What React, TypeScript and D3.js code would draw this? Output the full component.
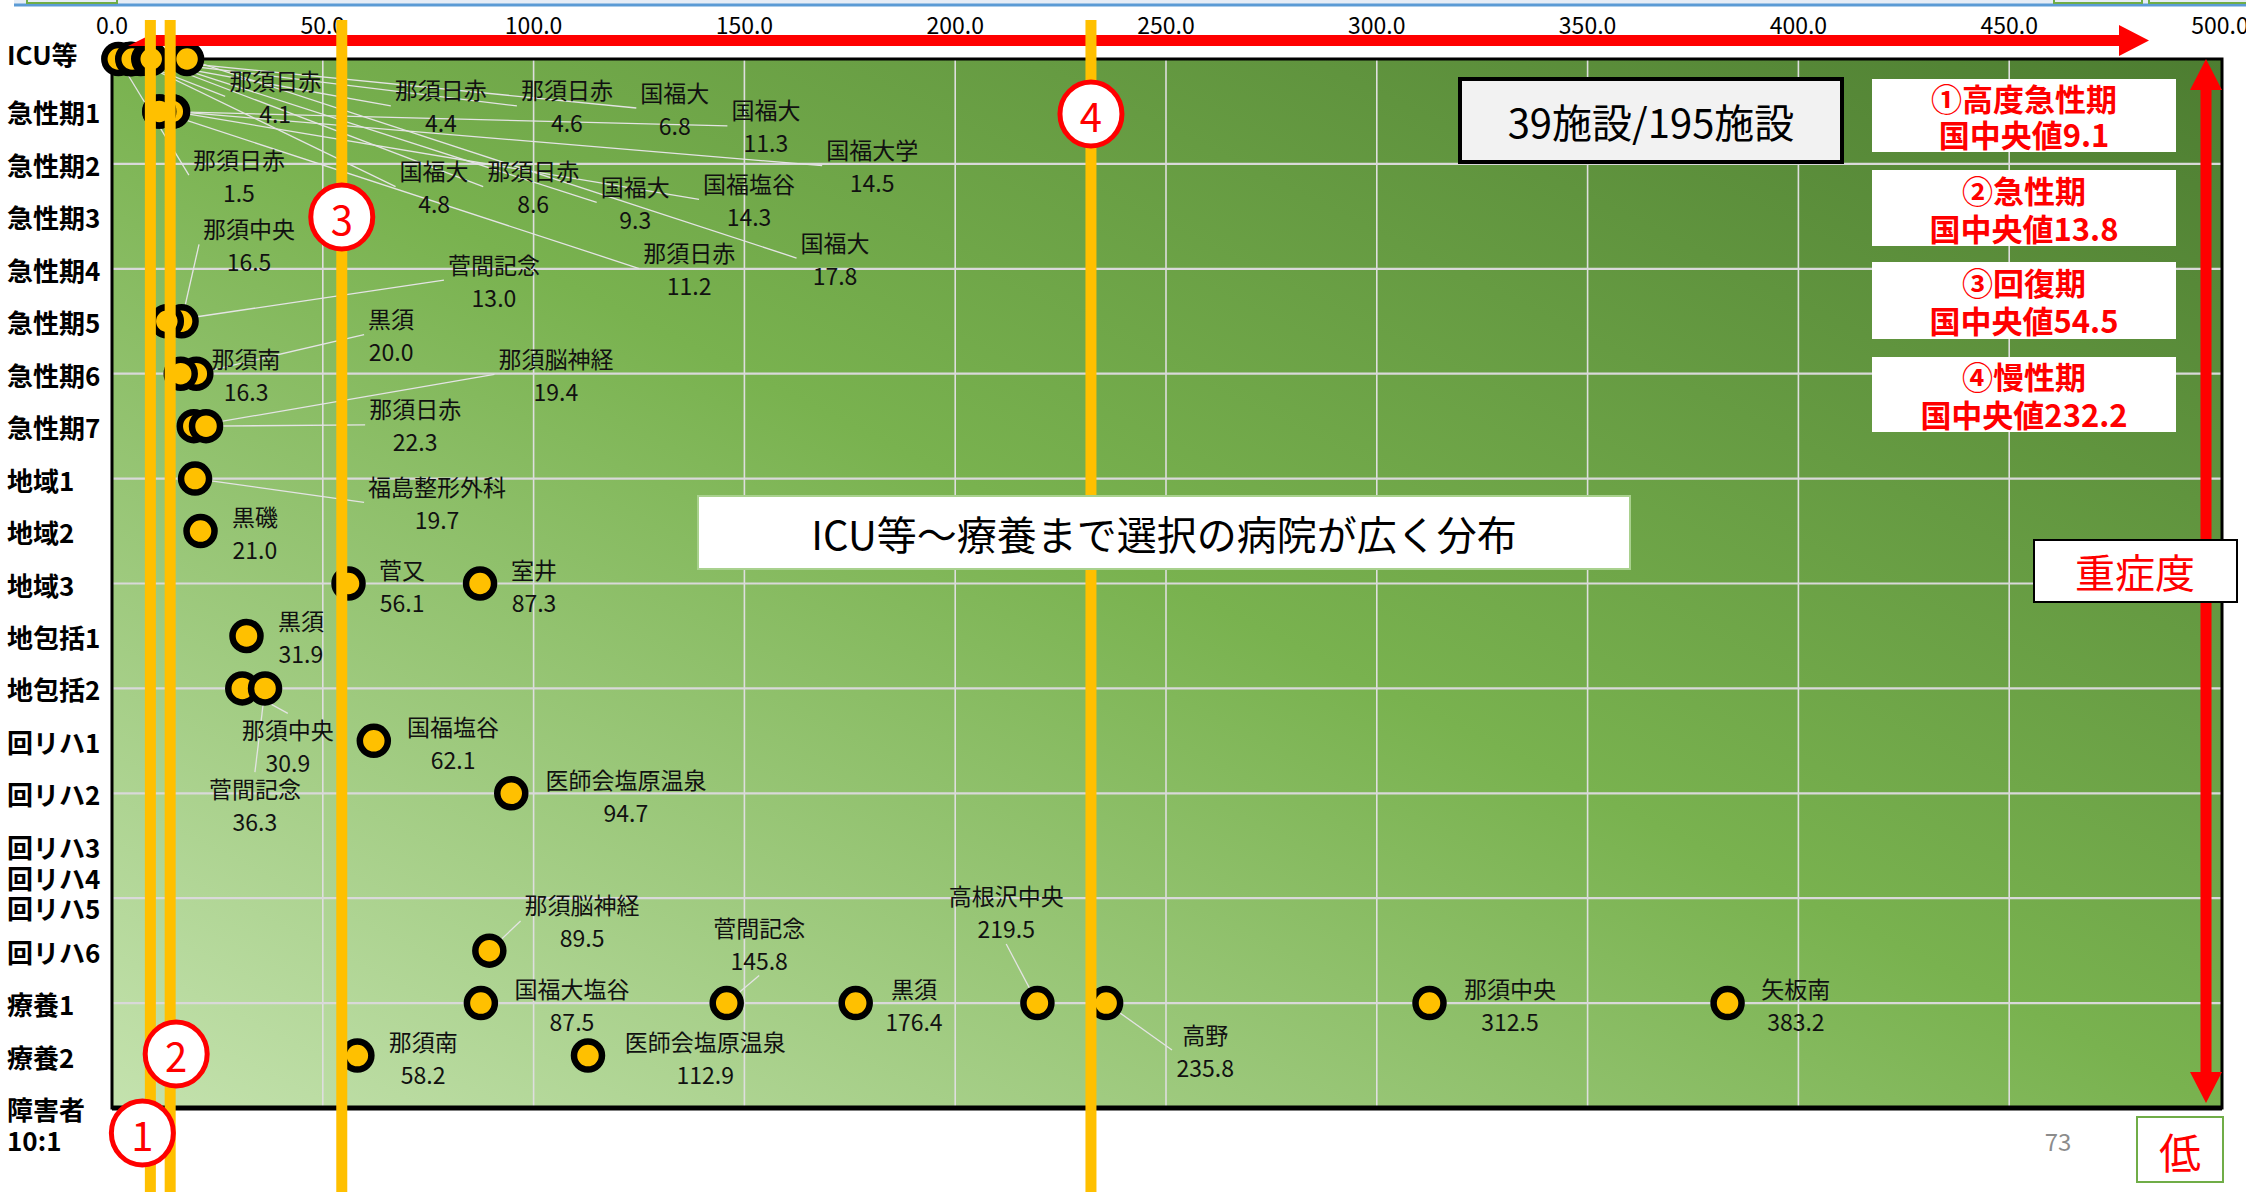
import React from "react";
import * as d3 from "d3";

const W = 2246;
const H = 1192;
const FONT = "'Noto Sans CJK JP', 'Noto Sans', sans-serif";

// y categories and their row position (grid units from the top)
const categories = [
  "ICU等", "急性期1", "急性期2", "急性期3", "急性期4", "急性期5", "急性期6", "急性期7",
  "地域1", "地域2", "地域3", "地包括1", "地包括2", "回リハ1", "回リハ2", "回リハ3",
  "回リハ4", "回リハ5", "回リハ6", "療養1", "療養2", "障害者\n10:1",
];
const categoryRows = [0, 0.5, 1, 1.5, 2, 2.5, 3, 3.5, 4, 4.5, 5, 5.5, 6, 6.5, 7, 7.5, 7.8, 8.08, 8.5, 9, 9.5, 10];

const xTicks = [0, 50, 100, 150, 200, 250, 300, 350, 400, 450, 500];

// hospitals (名前, 値, 区分)
const hospitals = [
  "那須日赤", "那須日赤", "那須日赤", "国福大", "国福大", "国福大学", "那須日赤", "国福大",
  "那須日赤", "国福大", "国福塩谷", "国福大", "那須日赤", "那須中央", "菅間記念", "黒須",
  "那須南", "那須脳神経", "那須日赤", "福島整形外科", "黒磯", "菅又", "室井", "黒須",
  "那須中央", "国福塩谷", "菅間記念", "医師会塩原温泉", "那須脳神経", "菅間記念", "高根沢中央", "国福大塩谷",
  "黒須", "那須中央", "矢板南", "高野", "那須南", "医師会塩原温泉",
];
const values = [
  4.1, 4.4, 4.6, 6.8, 11.3, 14.5, 1.5, 4.8,
  8.6, 9.3, 14.3, 17.8, 11.2, 16.5, 13.0, 20.0,
  16.3, 19.4, 22.3, 19.7, 21.0, 56.1, 87.3, 31.9,
  30.9, 62.1, 36.3, 94.7, 89.5, 145.8, 219.5, 87.5,
  176.4, 312.5, 383.2, 235.8, 58.2, 112.9,
];
const hospitalCategory = [
  "ICU等", "ICU等", "ICU等", "ICU等", "急性期1", "急性期1", "ICU等", "ICU等",
  "ICU等", "ICU等", "急性期1", "ICU等", "急性期1", "急性期5", "急性期5", "急性期6",
  "急性期6", "急性期7", "急性期7", "地域1", "地域2", "地域3", "地域3", "地包括1",
  "地包括2", "回リハ1", "地包括2", "回リハ2", "回リハ6", "療養1", "療養1", "療養1",
  "療養1", "療養1", "療養1", "療養1", "療養2", "療養2",
];
// where each data label sits (x in axis units, y in row units)
const labelX = [
  38.7, 78.0, 107.9, 133.5, 155.1, 180.3, 30.1, 76.4,
  99.9, 124.1, 151.1, 171.5, 136.9, 32.5, 90.6, 66.2,
  31.8, 105.3, 71.9, 77.1, 33.9, 68.8, 100.1, 44.8,
  41.7, 80.9, 33.9, 121.9, 111.5, 153.5, 212.1, 109.1,
  190.2, 331.6, 399.4, 259.3, 73.8, 140.7,
];
const labelY = [
  0.2, 0.29, 0.29, 0.31, 0.48, 0.86, 0.95, 1.06,
  1.06, 1.21, 1.18, 1.74, 1.84, 1.61, 1.95, 2.47,
  2.85, 2.85, 3.33, 4.07, 4.36, 4.86, 4.86, 5.35,
  6.39, 6.36, 6.95, 6.86, 8.06, 8.27, 7.97, 8.86,
  8.86, 8.86, 8.86, 9.29, 9.36, 9.36,
];

// 国中央値
const medianNames = ["①高度急性期", "②急性期", "③回復期", "④慢性期"];
const medianValues = [9.1, 13.8, 54.5, 232.2];
const medianMarks = ["1", "2", "3", "4"];

const textW = (s: string, fs: number) =>
  Array.from(s).reduce((w, c) => w + (c.charCodeAt(0) > 255 ? fs : c === "." ? 0.3 * fs : 0.56 * fs), 0);

export default function App() {
  const x = d3.scaleLinear().domain([0, 500]).range([112, 2220]);
  const y = d3.scaleLinear().domain([0, 10]).range([59, 1108]);
  const fmt = d3.format(".1f");
  const rowOf = (c: string) => categoryRows[categories.indexOf(c)];

  const LFS = 23;
  const points = hospitals.map((name, i) => {
    const cx = x(values[i]);
    const cy = y(rowOf(hospitalCategory[i]));
    const lx = x(labelX[i]);
    const ly = y(labelY[i]);
    const val = fmt(values[i]);
    const bw = Math.max(textW(name, LFS), textW(val, LFS)) + 8;
    const x0 = lx - bw / 2, x1 = lx + bw / 2, y0 = ly - 16, y1 = ly + 33 + 16;
    let ex: number, ey: number;
    if (cx < x0 || cx > x1) {
      ex = cx < x0 ? x0 : x1;
      ey = (y0 + y1) / 2;
    } else {
      ex = lx;
      ey = cy < y0 ? y0 : y1;
    }
    const dist = Math.hypot(ex - cx, ey - cy);
    return { name, val, cx, cy, lx, ly, ex, ey, leader: dist > 40 };
  });

  const legendBoxes = [
    { y0: 79, h: 73 },
    { y0: 170, h: 76 },
    { y0: 262, h: 77 },
    { y0: 357, h: 75 },
  ];
  const markY = [1133, 1054, 217, 114];
  const markDx = [-8, 6, 0, 0];

  const plotL = x(0), plotR = 2222, plotT = y(0), plotB = y(10);

  return (
    <div style={{ position: "absolute", left: 0, top: 0 }}>
      <svg width={W} height={H} style={{ display: "block", background: "#fff", fontFamily: FONT }}>
        <defs>
          <linearGradient id="plotBg" x1="0" y1="1" x2="1" y2="0">
            <stop offset="0" stopColor="#c4e2ae" />
            <stop offset="0.5" stopColor="#79b24f" />
            <stop offset="1" stopColor="#4d7d31" />
          </linearGradient>
        </defs>

        {/* slide frame remnants at top */}
        <rect x={14} y={0} width={W - 14} height={4} fill="#e6edf6" />
        <line x1={14} x2={W} y1={5} y2={5} stroke="#5b9bd5" strokeWidth={3} />
        <rect x={27} y={-3} width={90} height={6} fill="none" stroke="#70ad47" strokeWidth={2} />
        <rect x={2054} y={-3} width={88} height={6} fill="none" stroke="#70ad47" strokeWidth={2} />
        <rect x={2149} y={-3} width={100} height={6} fill="none" stroke="#70ad47" strokeWidth={2} />

        {/* plot area */}
        <rect x={plotL} y={plotT} width={plotR - plotL} height={plotB - plotT} fill="url(#plotBg)" />
        {xTicks.slice(1, -1).map((t) => (
          <line key={"gx" + t} x1={x(t)} x2={x(t)} y1={plotT} y2={plotB} stroke="#dedede" strokeWidth={1.6} />
        ))}
        {d3.range(1, 10).map((r) => (
          <line key={"gy" + r} x1={plotL} x2={plotR} y1={y(r)} y2={y(r)} stroke="#d9d9d9" strokeWidth={2.2} />
        ))}
        <rect x={plotL} y={plotT} width={plotR - plotL} height={plotB - plotT} fill="none" stroke="#000" strokeWidth={3} />
        <line x1={plotL} x2={plotR} y1={plotB} y2={plotB} stroke="#000" strokeWidth={5} />

        {/* x axis labels */}
        {xTicks.map((t) => (
          <text key={"xt" + t} x={x(t)} y={24} fontSize={23} textAnchor="middle" dominantBaseline="central" fill="#000">
            {fmt(t)}
          </text>
        ))}

        {/* leader lines */}
        {points.filter((p) => p.leader).map((p, i) => (
          <line key={"ll" + i} x1={p.cx} y1={p.cy} x2={p.ex} y2={p.ey} stroke="#e4e4e4" strokeWidth={1.3} />
        ))}

        {/* points */}
        {points.map((p, i) => (
          <circle key={"pt" + i} cx={p.cx} cy={p.cy} r={14} fill="#ffc000" stroke="#000" strokeWidth={6.5} />
        ))}

        {/* data labels */}
        {points.map((p, i) => (
          <g key={"lb" + i} fontSize={LFS} fill="#111" textAnchor="middle">
            <text x={p.lx} y={p.ly} dominantBaseline="central">{p.name}</text>
            <text x={p.lx} y={p.ly + 33} dominantBaseline="central">{p.val}</text>
          </g>
        ))}

        {/* category labels */}
        {categories.map((c, i) => {
          const lines = c.split("\n");
          return (
            <text key={"cat" + i} x={7} fontSize={26} fontWeight="bold" fill="#000" dominantBaseline="central">
              {lines.map((s, j) => (
                <tspan key={j} x={7} y={y(categoryRows[i]) - (i === 0 ? 6 : 0) + j * 31}>{s}</tspan>
              ))}
            </text>
          );
        })}

        {/* 施設数 */}
        <rect x={1460} y={79} width={382} height={83} fill="#f2f2f2" stroke="#000" strokeWidth={4} />
        <text x={1651} y={121} fontSize={40} textAnchor="middle" dominantBaseline="central" fill="#000">
          39施設/195施設
        </text>

        {/* 国中央値 boxes */}
        {medianNames.map((n, i) => (
          <g key={"md" + i}>
            <rect x={1872} y={legendBoxes[i].y0} width={304} height={legendBoxes[i].h} fill="#fff" />
            <text x={2024} y={legendBoxes[i].y0 + legendBoxes[i].h * 0.25} fontSize={31} fontWeight="bold" fill="#ff0000" textAnchor="middle" dominantBaseline="central">
              {n}
            </text>
            <text x={2024} y={legendBoxes[i].y0 + legendBoxes[i].h * 0.75} fontSize={31} fontWeight="bold" fill="#ff0000" textAnchor="middle" dominantBaseline="central">
              {"国中央値" + medianValues[i]}
            </text>
          </g>
        ))}

        {/* red arrows */}
        <polygon points="128,46 150,35 2119,35 2119,25 2149,40.5 2119,56 2119,46" fill="#ff0000" />
        <polygon points="2200.5,90 2190,90 2206,59 2222,90 2211.5,90 2211.5,1072 2222,1072 2206,1103 2190,1072 2200.5,1072" fill="#ff0000" />

        {/* 国中央値 lines */}
        {medianValues.map((v, i) => (
          <line key={"ml" + i} x1={x(v)} x2={x(v)} y1={20} y2={H} stroke="#ffc000" strokeWidth={11} />
        ))}

        {/* message box */}
        <rect x={698} y={496} width={932} height={73} fill="#fff" stroke="#a9d18e" strokeWidth={2} />
        <text x={1164} y={533} fontSize={40} textAnchor="middle" dominantBaseline="central" fill="#000">
          ICU等～療養まで選択の病院が広く分布
        </text>

        {/* circled numbers */}
        {medianValues.map((v, i) => (
          <g key={"mk" + i}>
            <ellipse cx={x(v) + markDx[i]} cy={markY[i]} rx={31} ry={32} fill="#fff" stroke="#ff0000" strokeWidth={5} />
            <text x={x(v) + markDx[i]} y={markY[i] + 1} fontSize={40} fill="#ff0000" textAnchor="middle" dominantBaseline="central">
              {medianMarks[i]}
            </text>
          </g>
        ))}

        {/* 重症度 / 低 */}
        <rect x={2034} y={540} width={203} height={62} fill="#fff" stroke="#000" strokeWidth={2} />
        <text x={2135} y={571} fontSize={40} fill="#ff0000" textAnchor="middle" dominantBaseline="central">重症度</text>
        <rect x={2137} y={1117} width={86} height={65} fill="#fff" stroke="#70ad47" strokeWidth={2} />
        <text x={2180} y={1150} fontSize={42} fill="#ff0000" textAnchor="middle" dominantBaseline="central">低</text>
        <text x={2058} y={1140} fontSize={24} fill="#8c8c8c" textAnchor="middle" dominantBaseline="central">73</text>
      </svg>
    </div>
  );
}
